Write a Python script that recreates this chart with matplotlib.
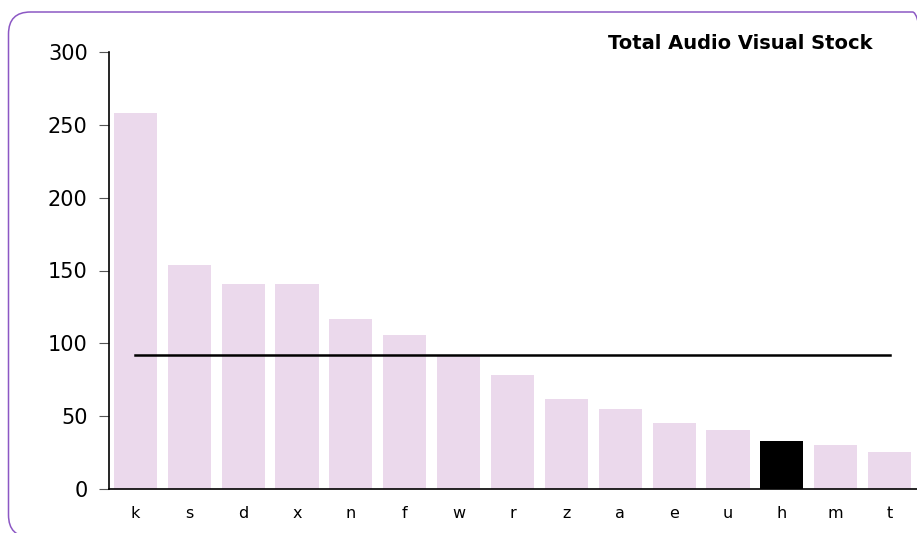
import matplotlib.pyplot as plt
from matplotlib.patches import FancyBboxPatch

# stock per region, sorted high to low
regions = ["k", "s", "d", "x", "n", "f", "w", "r", "z", "a", "e", "u", "h", "m", "t"]
stock = [258, 154, 141, 141, 117, 106, 92, 78, 62, 55, 45, 40.5, 33, 30, 25.5]
average = 92
highlight = "h"

bar_color = "#ebd9ec"
frame_color = "#8c58c4"

fig = plt.figure(figsize=(9.17, 5.33), dpi=100)

# rounded frame around the chart (inch units, so corners stay circular)
frame = FancyBboxPatch((0.085, -0.04), 9.26, 5.25,
                       boxstyle="round,pad=0,rounding_size=0.22",
                       transform=fig.dpi_scale_trans, facecolor="none",
                       edgecolor=frame_color, linewidth=1.1)
fig.patches.append(frame)

ax = fig.add_axes([108.5 / 917, 1 - 489 / 533, 808 / 917, 437 / 533])

colors = ["black" if r == highlight else bar_color for r in regions]
ax.bar(range(len(regions)), stock, width=0.8, color=colors)
ax.plot([0, len(regions) - 1], [average, average], color="black", linewidth=1.8)

ax.set_xlim(-0.5, len(regions) - 0.5)
ax.set_ylim(0, 300)
ax.set_yticks([0, 50, 100, 150, 200, 250, 300])
ax.set_xticks(range(len(regions)))
ax.set_xticklabels(regions)

ax.spines["top"].set_visible(False)
ax.spines["right"].set_visible(False)
ax.spines["left"].set_linewidth(1.2)
ax.spines["bottom"].set_linewidth(1.2)
ax.tick_params(axis="y", labelsize=15, length=7, color="#555555", pad=8)
ax.tick_params(axis="x", labelsize=11.5, length=0, pad=12)

fig.text(872 / 917, 1 - 43 / 533, "Total Audio Visual Stock",
         ha="right", va="center", fontsize=14, fontweight="bold")

fig.savefig("out.png", dpi=100)
